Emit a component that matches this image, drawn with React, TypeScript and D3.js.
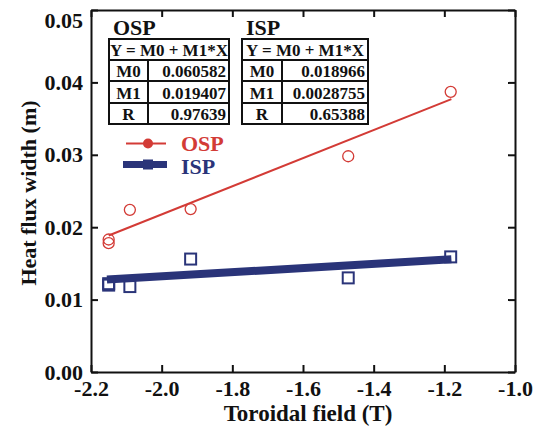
import React, { useEffect, useRef } from "react";
import * as d3 from "d3";

// OSP (outer strike point) measurements
const ospField = [-2.15, -2.15, -2.09, -1.918, -1.472, -1.182];
const ospWidth = [0.0183, 0.0178, 0.0224, 0.0225, 0.0298, 0.0387];
// ISP (inner strike point) measurements
const ispField = [-2.15, -2.15, -2.09, -1.918, -1.472, -1.182];
const ispWidth = [0.0122, 0.012, 0.0118, 0.0156, 0.013, 0.0159];

const ospFit = { M0: "0.060582", M1: "0.019407", R: "0.97639" };
const ispFit = { M0: "0.018966", M1: "0.0028755", R: "0.65388" };

const xTicks = [-2.2, -2.0, -1.8, -1.6, -1.4, -1.2, -1.0];
const yTicks = [0, 0.01, 0.02, 0.03, 0.04, 0.05];

const W = 537;
const H = 430;
const margin = { top: 10, right: 22, bottom: 58, left: 91 };
const RED = "#d33b36";
const NAVY = "#2a3479";
const FONT = "'Liberation Serif', 'Times New Roman', serif";

const x = d3.scaleLinear().domain([-2.2, -1.0]).range([margin.left, W - margin.right]);
const y = d3.scaleLinear().domain([0, 0.05]).range([H - margin.bottom, margin.top]);

function fitLine(fit: { M0: string; M1: string }, x0: number, x1: number) {
  const m0 = +fit.M0;
  const m1 = +fit.M1;
  return [
    [x0, m0 + m1 * x0],
    [x1, m0 + m1 * x1],
  ] as [number, number][];
}

const line = d3
  .line<[number, number]>()
  .x((d) => x(d[0]))
  .y((d) => y(d[1]));

function FitTable(props: { left: number; title: string; fit: any; width: number; col: number }) {
  const { left, title, fit, width, col } = props;
  const top = 39;
  const rowH = [21, 21, 22, 21];
  const rows = [
    ["M0", fit.M0],
    ["M1", fit.M1],
    ["R", fit.R],
  ];
  let ys = [top];
  rowH.forEach((h) => ys.push(ys[ys.length - 1] + h));
  return (
    <g fontFamily={FONT} fontWeight="bold" fill="#111">
      <text x={left + 4} y={35} fontSize={22}>
        {title}
      </text>
      <rect x={left} y={top} width={width} height={ys[4] - top} fill="none" stroke="#111" strokeWidth={2} />
      {ys.slice(1, 4).map((yy, i) => (
        <line key={i} x1={left} x2={left + width} y1={yy} y2={yy} stroke="#111" strokeWidth={2} />
      ))}
      <line x1={left + col} x2={left + col} y1={ys[1]} y2={ys[4]} stroke="#111" strokeWidth={2} />
      <text x={left + width / 2} y={ys[1] - 4} fontSize={17} textAnchor="middle">
        Y = M0 + M1*X
      </text>
      {rows.map((r, i) => (
        <g key={r[0]}>
          <text x={left + col / 2} y={ys[i + 2] - 4} fontSize={17} textAnchor="middle">
            {r[0]}
          </text>
          <text x={left + width - 3} y={ys[i + 2] - 4} fontSize={17} textAnchor="end">
            {r[1]}
          </text>
        </g>
      ))}
    </g>
  );
}

export default function App() {
  const axRef = useRef<SVGGElement>(null);

  useEffect(() => {
    const g = d3.select(axRef.current);
    g.selectAll("*").remove();
    const fmtX = (d: any) => (+d).toFixed(1);
    const fmtY = (d: any) => (+d).toFixed(2);

    g.append("g")
      .attr("transform", `translate(0,${H - margin.bottom})`)
      .call(d3.axisBottom(x).tickValues(xTicks).tickFormat(fmtX).tickSizeInner(-7).tickSizeOuter(0).tickPadding(8));
    const left = g
      .append("g")
      .attr("class", "y-axis")
      .attr("transform", `translate(${margin.left},0)`)
      .call(d3.axisLeft(y).tickValues(yTicks).tickFormat(fmtY).tickSizeInner(-7).tickSizeOuter(0).tickPadding(8));
    g.append("g")
      .attr("transform", `translate(0,${margin.top})`)
      .call(d3.axisTop(x).tickValues(xTicks).tickFormat(() => "").tickSizeInner(-7).tickSizeOuter(0));
    g.append("g")
      .attr("transform", `translate(${W - margin.right},0)`)
      .call(d3.axisRight(y).tickValues(yTicks).tickFormat(() => "").tickSizeInner(-7).tickSizeOuter(0));

    g.selectAll(".domain").attr("stroke", "#111").attr("stroke-width", 2);
    g.selectAll(".tick line").attr("stroke", "#111").attr("stroke-width", 2);
    g.selectAll(".tick text")
      .attr("font-family", FONT)
      .attr("font-weight", "bold")
      .attr("font-size", 22)
      .attr("fill", "#111");
    // top label sits a little below its tick, as in the original
    left
      .selectAll<SVGTextElement, number>(".tick text")
      .filter((d) => d === 0.05)
      .attr("y", 10);
  }, []);

  return (
    <svg width={W} height={H} style={{ position: "absolute", left: 0, top: 0, background: "#fff" }}>
      <g ref={axRef} />

      {/* fit lines */}
      <path d={line(fitLine(ospFit, -2.15, -1.18)) || ""} stroke={RED} strokeWidth={2} fill="none" />
      <path d={line(fitLine(ispFit, -2.155, -1.18)) || ""} stroke={NAVY} strokeWidth={8} fill="none" />

      {/* points */}
      {ospField.map((f, i) => (
        <circle key={"o" + i} cx={x(f)} cy={y(ospWidth[i])} r={5.5} fill="none" stroke={RED} strokeWidth={1.3} />
      ))}
      {ispField.map((f, i) => (
        <rect
          key={"i" + i}
          x={x(f) - 5.5}
          y={y(ispWidth[i]) - 5.5}
          width={11}
          height={11}
          fill="none"
          stroke={NAVY}
          strokeWidth={2}
        />
      ))}

      <FitTable left={109} title="OSP" fit={ospFit} width={120} col={39} />
      <FitTable left={242} title="ISP" fit={ispFit} width={126} col={40} />

      {/* legend */}
      <g fontFamily={FONT} fontWeight="bold" fontSize={22}>
        <line x1={126} x2={166} y1={143.5} y2={143.5} stroke={RED} strokeWidth={2} />
        <circle cx={148} cy={143.5} r={5} fill={RED} />
        <text x={181} y={150.5} fill={RED}>
          OSP
        </text>
        <line x1={123} x2={167} y1={164.5} y2={164.5} stroke={NAVY} strokeWidth={7} />
        <rect x={143} y={159.5} width={10} height={10} fill={NAVY} />
        <text x={181} y={173.5} fill={NAVY}>
          ISP
        </text>
      </g>

      {/* axis titles */}
      <text x={308} y={421} textAnchor="middle" fontFamily={FONT} fontWeight="bold" fontSize={23} fill="#111">
        Toroidal field (T)
      </text>
      <text
        transform={`translate(36,193) rotate(-90)`}
        textAnchor="middle"
        fontFamily={FONT}
        fontWeight="bold"
        fontSize={22}
        fill="#111"
      >
        Heat flux width (m)
      </text>
    </svg>
  );
}
